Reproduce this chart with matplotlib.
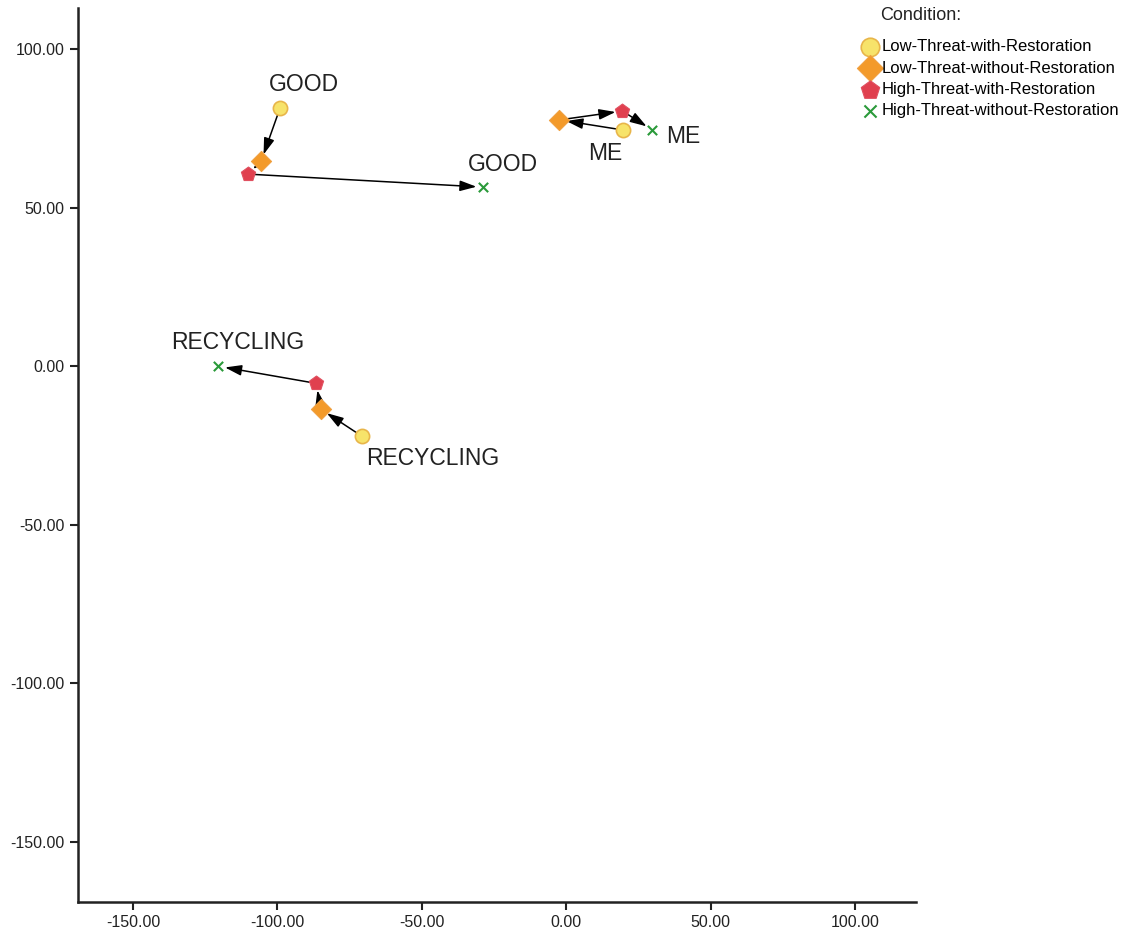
import matplotlib.pyplot as plt

plt.rcParams['font.family'] = ['Liberation Sans', 'DejaVu Sans']

words = ['GOOD', 'ME', 'RECYCLING']
conditions = ['Low-Threat-with-Restoration', 'Low-Threat-without-Restoration',
              'High-Threat-with-Restoration', 'High-Threat-without-Restoration']

# coordinates of each word under each condition
low_with_x = [-99.1, 19.7, -70.7]
low_with_y = [81.4, 74.5, -22.1]
low_without_x = [-105.6, -2.4, -84.9]
low_without_y = [64.7, 77.7, -13.6]
high_with_x = [-110.1, 19.4, -86.6]
high_with_y = [60.6, 80.5, -5.4]
high_without_x = [-28.7, 29.8, -120.5]
high_without_y = [56.5, 74.5, 0.0]

xs = [low_with_x, low_without_x, high_with_x, high_without_x]
ys = [low_with_y, low_without_y, high_with_y, high_without_y]

ticks = [-150, -100, -50, 0, 50, 100]

styles = [
    dict(marker='o', s=105, c='#f7e36a', edgecolors='#e8b54a', linewidths=1.2),
    dict(marker='D', s=105, c='#f39a2a', edgecolors='#f0a040', linewidths=0.8),
    dict(marker='p', s=115, c='#e0404f', edgecolors='#e05060', linewidths=0.8),
    dict(marker='x', s=45, c='#2a9a3a', linewidths=1.5),
]

fig = plt.figure(figsize=(11.3, 9.36), dpi=100)
ax = fig.add_axes([78 / 1130, 34 / 936, 838 / 1130, 894 / 936])

# arrows from one condition to the next for every word
for w in range(len(words)):
    for c in range(3):
        ax.annotate('', xy=(xs[c + 1][w], ys[c + 1][w]), xytext=(xs[c][w], ys[c][w]),
                    arrowprops=dict(arrowstyle='-|>,head_length=1.0,head_width=0.32',
                                    color='black', lw=1.1, shrinkA=5, shrinkB=5),
                    zorder=2)

for i in range(4):
    ax.scatter(xs[i], ys[i], label=conditions[i], zorder=3, **styles[i])

# word labels: (condition index, word index, offset in points)
labels = [(0, 0, (17, 17)), (3, 0, (14, 16)), (0, 1, (-13, -17)),
          (3, 1, (22, -5)), (3, 2, (14, 17)), (0, 2, (51, -16))]
for c, w, off in labels:
    ax.annotate(words[w], (xs[c][w], ys[c][w]), xytext=off, textcoords='offset points',
                ha='center', va='center', fontsize=16.5, color='#222222')

ax.set_xlim(-169, 121)
ax.set_ylim(-169, 113)
ax.set_xticks(ticks)
ax.set_yticks(ticks)
ax.set_xticklabels(['%.2f' % t for t in ticks])
ax.set_yticklabels(['%.2f' % t for t in ticks])
ax.tick_params(labelsize=11.5, length=6, width=1.5, colors='#222222')
ax.spines['top'].set_visible(False)
ax.spines['right'].set_visible(False)
for side in ['left', 'bottom']:
    ax.spines[side].set_linewidth(1.8)
    ax.spines[side].set_color('#222222')

fig.text(880 / 1130, 1 - 16 / 936, 'Condition:', fontsize=13, color='#222222',
         ha='left', va='center')
ax.legend(loc='upper left', bbox_to_anchor=(855 / 1130, 1 - 31 / 936),
          bbox_transform=fig.transFigure, frameon=False,
          fontsize=12, markerscale=1.3, handlelength=0.8, borderpad=0,
          handletextpad=0.3, labelspacing=0.38)

fig.savefig('out.png', dpi=100)
